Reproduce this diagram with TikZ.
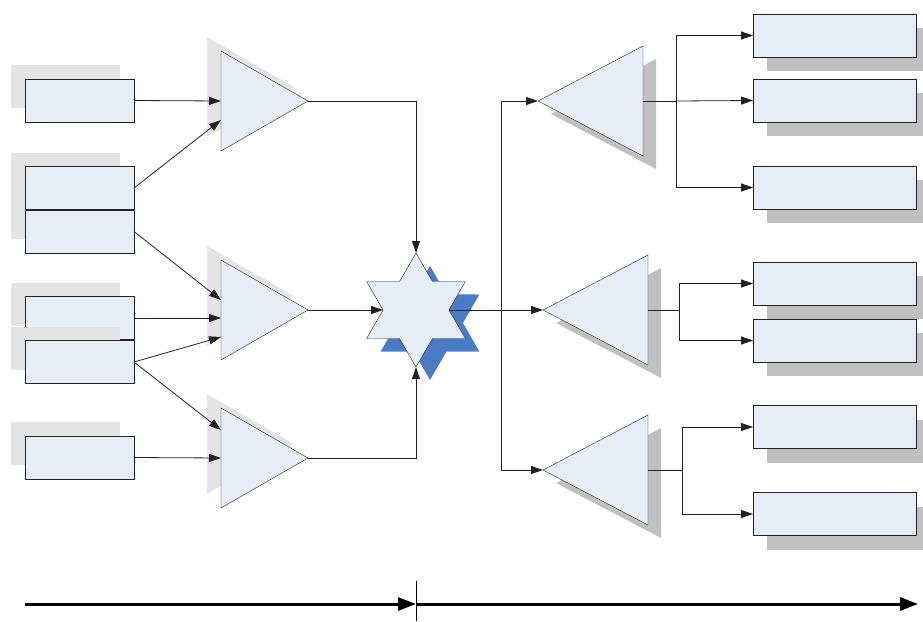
\documentclass[tikz,border=0pt]{standalone}
\usetikzlibrary{arrows.meta,positioning,calc,shapes.geometric,shadows}
\definecolor{BoxFill}{HTML}{E6EDF7}
\definecolor{ShadeLight}{HTML}{E4E4E4}
\definecolor{ShadeDark}{HTML}{C0C0C0}
\definecolor{StarShade}{HTML}{4A7BC4}
\definecolor{EdgeGray}{HTML}{222222}

\begin{document}
\begin{tikzpicture}[x=1pt,y=-1pt]
  \tikzset{
    src/.style={draw=EdgeGray,fill=BoxFill,minimum width=109pt,minimum height=43pt,inner sep=0pt,outer sep=0pt,
      drop shadow={shadow xshift=-14pt,shadow yshift=14pt,fill=ShadeLight,opacity=1}},
    sink/.style={draw=EdgeGray,fill=BoxFill,minimum width=163pt,minimum height=43pt,inner sep=0pt,outer sep=0pt,
      drop shadow={shadow xshift=14pt,shadow yshift=-14pt,fill=ShadeDark,opacity=1}},
    ampin/.style={isosceles triangle,isosceles triangle stretches,draw=EdgeGray,fill=BoxFill,
      minimum width=100pt,minimum height=87pt,inner sep=0pt,outer sep=0pt,anchor=apex,
      drop shadow={shadow xshift=-14pt,shadow yshift=14pt,fill=ShadeLight,opacity=1}},
    ampout/.style={isosceles triangle,isosceles triangle stretches,shape border rotate=180,draw=EdgeGray,fill=BoxFill,
      minimum width=110pt,minimum height=105pt,inner sep=0pt,outer sep=0pt,anchor=apex,
      drop shadow={shadow xshift=13pt,shadow yshift=-13pt,fill=ShadeDark,opacity=1}},
    mixer/.style={star,star points=6,star point ratio=1.73,minimum size=114pt,inner sep=0pt,outer sep=0pt,
      draw=EdgeGray,fill=BoxFill,drop shadow={shadow xshift=14pt,shadow yshift=-13pt,fill=StarShade,opacity=1}},
    link/.style={draw=EdgeGray,line width=0.8pt,-{Triangle[length=12pt,width=8pt]}},
    wire/.style={draw=EdgeGray,line width=0.8pt},
    timeline/.style={line width=3pt,-{Triangle[length=18pt,width=13pt]}}
  }
  \useasboundingbox (0,0) rectangle (923,621);

  \node[src] (inA) at (79.5,100.5) {};
  \node[src] (inC) at (79.5,231.5) {};
  \node[src] (inB) at (79.5,188) {};
  \node[src] (inD) at (79.5,318) {};
  \node[src] (inE) at (79.5,362) {};
  \node[src] (inF) at (79.5,457.5) {};

  \node[ampin] (ampA) at (308,101) {};
  \node[ampin] (ampB) at (308,310) {};
  \node[ampin] (ampC) at (308,458) {};

  \node[mixer] (mix) at (416,310) {};

  \node[ampout] (ampD) at (538,101) {};
  \node[ampout] (ampE) at (543,310) {};
  \node[ampout] (ampF) at (543,470) {};

  \node[sink] (outA) at (834.5,35.5) {};
  \node[sink] (outB) at (834.5,100.5) {};
  \node[sink] (outC) at (834.5,187.5) {};
  \node[sink] (outD) at (834.5,283.5) {};
  \node[sink] (outE) at (834.5,340.5) {};
  \node[sink] (outF) at (834.5,427) {};
  \node[sink] (outG) at (834.5,514) {};

  \draw[link] (inA.east) -- (ampA.west);
  \draw[link] (inB.east) -- ($(ampA.west)+(0,19)$);
  \draw[link] (inC.east) -- ($(ampB.west)+(0,-10)$);
  \draw[link] (inD.east) -- ($(ampB.west)+(0,8)$);
  \draw[link] (inE.east) -- ($(ampB.west)+(0,27)$);
  \draw[link] (inE.east) -- ($(ampC.west)+(0,-28)$);
  \draw[link] (inF.east) -- (ampC.west);

  \draw[link] (ampA.east) -| (mix.north);
  \draw[link] (ampB.east) -- (mix.west);
  \draw[link] (ampC.east) -| (mix.south);

  \coordinate (split) at (501,310);
  \draw[link] (mix.east) -- (ampE.apex);
  \draw[link] (split) |- (ampD.apex);
  \draw[link] (split) |- (ampF.apex);

  \coordinate[right=33pt of ampD.east] (fanD);
  \coordinate[right=31pt of ampE.east] (fanE);
  \coordinate[right=34pt of ampF.east] (fanF);
  \draw[wire] (ampD.east) -- (fanD);
  \draw[wire] (ampE.east) -- (fanE);
  \draw[wire] (ampF.east) -- (fanF);
  \draw[link] (fanD) |- (outA.west);
  \draw[link] (fanD) -- (outB.west);
  \draw[link] (fanD) |- (outC.west);
  \draw[link] (fanE) |- (outD.west);
  \draw[link] (fanE) |- (outE.west);
  \draw[link] (fanF) |- (outF.west);
  \draw[link] (fanF) |- (outG.west);

  \coordinate (t0) at (25,604);
  \coordinate (tmid) at (416,604);
  \coordinate (t1) at (918,604);
  \coordinate (tickTop) at (416,581);
  \coordinate (tickBot) at (416,621);
  \draw[timeline] (t0) -- (tmid);
  \draw[timeline] (tmid) -- (t1);
  \draw[line width=0.6pt] (tickTop) -- (tickBot);
\end{tikzpicture}
\end{document}
